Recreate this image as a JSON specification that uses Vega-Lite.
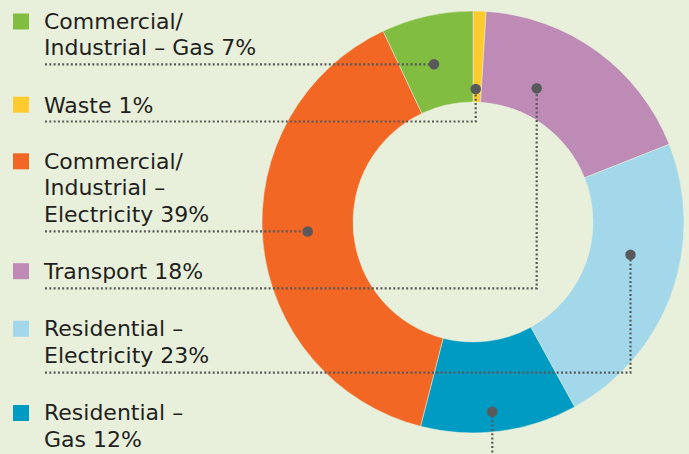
{
  "$schema": "https://vega.github.io/schema/vega-lite/v6.json",
  "width": 689,
  "height": 454,
  "autosize": {"type": "none"},
  "padding": 0,
  "background": "#e8f0dc",
  "config": {"view": {"stroke": null}},
  "datasets": {
    "slices": [
      {"cat": "Waste", "pct": 1, "ord": 1},
      {"cat": "Transport", "pct": 18, "ord": 2},
      {"cat": "Residential – Electricity", "pct": 23, "ord": 3},
      {"cat": "Residential – Gas", "pct": 12, "ord": 4},
      {"cat": "Commercial/Industrial – Electricity", "pct": 39, "ord": 5},
      {"cat": "Commercial/Industrial – Gas", "pct": 7, "ord": 6}
    ],
    "legend": [
      {"cat": "Commercial/Industrial – Gas", "label": "Commercial/\nIndustrial – Gas 7%", "sy": 21.5, "ty": 28.5},
      {"cat": "Waste", "label": "Waste 1%", "sy": 104.7, "ty": 112.5},
      {"cat": "Commercial/Industrial – Electricity", "label": "Commercial/\nIndustrial –\nElectricity 39%", "sy": 161.3, "ty": 168.5},
      {"cat": "Transport", "label": "Transport 18%", "sy": 271.2, "ty": 279.3},
      {"cat": "Residential – Electricity", "label": "Residential –\nElectricity 23%", "sy": 328.7, "ty": 336.2},
      {"cat": "Residential – Gas", "label": "Residential –\nGas 12%", "sy": 413, "ty": 420.3}
    ],
    "leaders": [
      {"id": "cg", "s": 1, "x": 45, "y": 64.3},
      {"id": "cg", "s": 2, "x": 434, "y": 64.3},
      {"id": "w", "s": 1, "x": 45, "y": 121.5},
      {"id": "w", "s": 2, "x": 475.7, "y": 121.5},
      {"id": "w", "s": 3, "x": 475.7, "y": 89},
      {"id": "ce", "s": 1, "x": 45, "y": 231.3},
      {"id": "ce", "s": 2, "x": 307.7, "y": 231.3},
      {"id": "t", "s": 1, "x": 45, "y": 288.3},
      {"id": "t", "s": 2, "x": 536.7, "y": 288.3},
      {"id": "t", "s": 3, "x": 536.7, "y": 88.3},
      {"id": "re", "s": 1, "x": 45, "y": 372.6},
      {"id": "re", "s": 2, "x": 630.5, "y": 372.6},
      {"id": "re", "s": 3, "x": 630.5, "y": 254.7},
      {"id": "rg", "s": 1, "x": 492.3, "y": 411.7},
      {"id": "rg", "s": 2, "x": 492.3, "y": 454}
    ],
    "dots": [
      {"id": "cg", "x": 434, "y": 64.3},
      {"id": "w", "x": 475.7, "y": 89},
      {"id": "t", "x": 536.7, "y": 88.3},
      {"id": "ce", "x": 307.7, "y": 231.5},
      {"id": "re", "x": 630.5, "y": 254.7},
      {"id": "rg", "x": 492.3, "y": 411.7}
    ]
  },
  "layer": [
    {
      "data": {"name": "slices"},
      "mark": {"type": "arc", "innerRadius": 120, "outerRadius": 211, "stroke": "#e8f0dc", "strokeWidth": 0.5},
      "encoding": {
        "x": {"datum": 473, "type": "quantitative", "scale": {"domain": [0, 689], "nice": false, "zero": false}, "axis": null},
        "y": {"datum": 222, "type": "quantitative", "scale": {"domain": [0, 454], "nice": false, "zero": false, "reverse": true}, "axis": null},
        "theta": {"field": "pct", "type": "quantitative", "stack": true},
        "order": {"field": "ord", "type": "quantitative"},
        "color": {
          "field": "cat",
          "type": "nominal",
          "legend": null,
          "scale": {
            "domain": ["Waste", "Transport", "Residential – Electricity", "Residential – Gas", "Commercial/Industrial – Electricity", "Commercial/Industrial – Gas"],
            "range": ["#fecb2f", "#bd8bb6", "#a3d8ea", "#009bc2", "#f26724", "#80bd41"]
          }
        }
      }
    },
    {
      "data": {"name": "leaders"},
      "mark": {"type": "line", "color": "#58595b", "strokeWidth": 2.2, "strokeDash": [2, 2.3], "strokeCap": "butt"},
      "encoding": {
        "x": {"field": "x", "type": "quantitative"},
        "y": {"field": "y", "type": "quantitative"},
        "detail": {"field": "id"},
        "order": {"field": "s", "type": "quantitative"}
      }
    },
    {
      "data": {"name": "dots"},
      "mark": {"type": "point", "shape": "circle", "filled": true, "opacity": 1, "size": 110, "color": "#58595b"},
      "encoding": {
        "x": {"field": "x", "type": "quantitative"},
        "y": {"field": "y", "type": "quantitative"}
      }
    },
    {
      "data": {"name": "legend"},
      "mark": {"type": "point", "shape": "square", "filled": true, "opacity": 1, "size": 256},
      "encoding": {
        "x": {"datum": 21, "type": "quantitative"},
        "y": {"field": "sy", "type": "quantitative"},
        "color": {"field": "cat", "type": "nominal", "legend": null}
      }
    },
    {
      "data": {"name": "legend"},
      "mark": {"type": "text", "align": "left", "baseline": "alphabetic", "font": "DejaVu Sans", "fontSize": 22, "lineHeight": 26.7, "lineBreak": "\n", "color": "#231f20"},
      "encoding": {
        "x": {"datum": 44, "type": "quantitative"},
        "y": {"field": "ty", "type": "quantitative"},
        "text": {"field": "label"}
      }
    }
  ]
}
